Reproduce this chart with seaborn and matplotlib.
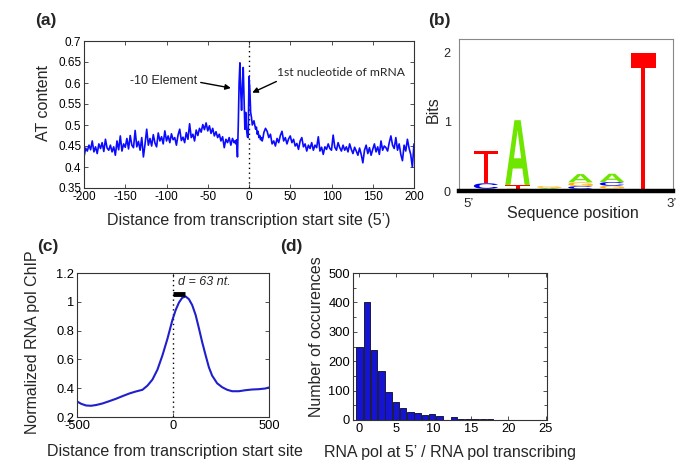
import numpy as np
import pandas as pd
import matplotlib
matplotlib.use("Agg")
import matplotlib.pyplot as plt
import seaborn as sns
from matplotlib.textpath import TextPath
from matplotlib.patches import PathPatch
from matplotlib.font_manager import FontProperties
from matplotlib.transforms import Affine2D
from matplotlib.ticker import MultipleLocator, FormatStrFormatter

sns.set_theme(style="ticks")
plt.rcParams['font.family'] = ['Liberation Sans', 'DejaVu Sans']
plt.rcParams['axes.unicode_minus'] = False

# ---------------- Panel (a): AT content ----------------
at_pos_left = list(range(-200, -17, 2))
at_left = [0.424, 0.445, 0.438, 0.452, 0.441, 0.462, 0.436, 0.448, 0.432, 0.455,
           0.444, 0.458, 0.437, 0.466, 0.445, 0.440, 0.452, 0.436, 0.448, 0.428,
           0.462, 0.441, 0.474, 0.438, 0.455, 0.447, 0.468, 0.443, 0.475, 0.452,
           0.446, 0.487, 0.448, 0.461, 0.440, 0.470, 0.424, 0.455, 0.490, 0.452,
           0.468, 0.450, 0.477, 0.457, 0.448, 0.481, 0.462, 0.472, 0.455, 0.486,
           0.462, 0.474, 0.458, 0.479, 0.465, 0.470, 0.452, 0.476, 0.490, 0.463,
           0.471, 0.458, 0.482, 0.466, 0.503, 0.470, 0.478, 0.462, 0.488, 0.475,
           0.492, 0.483, 0.501, 0.489, 0.505, 0.486, 0.498, 0.480, 0.492, 0.474,
           0.484, 0.470, 0.478, 0.462, 0.472, 0.446, 0.466, 0.458, 0.470, 0.452,
           0.468, 0.458]
at_pos_mid = list(range(-17, 18))
at_mid = [0.462, 0.455, 0.465, 0.424, 0.500, 0.600, 0.648, 0.580, 0.535, 0.590,
          0.637, 0.560, 0.490, 0.530, 0.490, 0.472, 0.470, 0.615, 0.585, 0.530,
          0.518, 0.500, 0.505, 0.510, 0.500, 0.490, 0.495, 0.478, 0.485, 0.470,
          0.475, 0.465, 0.470, 0.462, 0.470]
at_pos_right = list(range(18, 201, 2))
at_right = [0.482, 0.492, 0.485, 0.470, 0.478, 0.455, 0.462, 0.450, 0.468, 0.458,
            0.475, 0.485, 0.462, 0.470, 0.455, 0.467, 0.474, 0.458, 0.466, 0.450,
            0.456, 0.442, 0.462, 0.470, 0.448, 0.455, 0.438, 0.452, 0.444, 0.458,
            0.440, 0.452, 0.446, 0.472, 0.438, 0.447, 0.430, 0.448, 0.442, 0.455,
            0.444, 0.440, 0.476, 0.447, 0.440, 0.458, 0.446, 0.438, 0.452, 0.440,
            0.448, 0.436, 0.455, 0.442, 0.432, 0.447, 0.438, 0.428, 0.445, 0.430,
            0.410, 0.440, 0.452, 0.432, 0.446, 0.428, 0.442, 0.455, 0.436, 0.448,
            0.430, 0.462, 0.440, 0.450, 0.446, 0.438, 0.458, 0.474, 0.452, 0.444,
            0.470, 0.440, 0.455, 0.430, 0.415, 0.452, 0.438, 0.466, 0.445, 0.430,
            0.400, 0.455]

# ---------------- Panel (b): sequence logo ----------------
logo_positions = [1, 2, 3, 4, 5, 6]
bits_T = [0.47, 0.05, 0.010, 0.030, 0.035, 2.00]
bits_A = [0.012, 0.94, 0.020, 0.120, 0.120, 0.0]
bits_C = [0.08, 0.015, 0.015, 0.040, 0.055, 0.0]
bits_G = [0.02, 0.020, 0.025, 0.055, 0.040, 0.0]
logo_colors = {'T': '#ff0000', 'A': '#6ee600', 'C': '#0000ee', 'G': '#ffb000'}

# ---------------- Panel (c): RNA pol ChIP profile ----------------
chip_x = [-497, -479, -453, -427, -401, -367, -332, -298, -263, -228, -194, -159,
          -133, -107, -81, -55, -29, -3, 14, 31, 48, 66, 83, 100, 118, 135, 152,
          170, 187, 204, 230, 256, 282, 308, 343, 377, 412, 446, 481, 500]
chip_y = [0.306, 0.292, 0.280, 0.278, 0.283, 0.294, 0.310, 0.326, 0.345, 0.363,
          0.377, 0.389, 0.418, 0.460, 0.529, 0.628, 0.743, 0.874, 0.943, 0.995,
          1.028, 1.037, 1.018, 0.977, 0.908, 0.816, 0.720, 0.628, 0.545, 0.487,
          0.434, 0.407, 0.389, 0.379, 0.379, 0.386, 0.391, 0.393, 0.398, 0.405]
peak_offset = 63

# ---------------- Panel (d): histogram ----------------
hist_centers = [0.12, 1.09, 2.06, 3.03, 4.00, 4.97, 5.94, 6.91, 7.88, 8.85,
                9.82, 10.79, 11.76, 12.73, 13.70, 14.67, 15.64, 16.61, 17.58, 18.55]
hist_counts = [250, 400, 237, 165, 95, 60, 42, 26, 24, 16,
               19, 14, 0, 11, 5, 5, 4, 2, 2, 1]

W, H = 685, 471
fig = plt.figure(figsize=(W / 100, H / 100), dpi=100)
fig.patch.set_facecolor('white')


def add_ax(l, r, t, b):
    return fig.add_axes([l / W, 1 - b / H, (r - l) / W, (b - t) / H])


def matlab_style(ax, fs):
    for s in ax.spines.values():
        s.set_color('#333333')
        s.set_linewidth(0.8)
    ax.tick_params(direction='in', top=True, right=True, length=3, width=0.6,
                   color='#333333', labelsize=fs, labelcolor='black', pad=2)
    ax.set_facecolor('white')


lab_fs = 11.5

# ---- (a)
ax_a = add_ax(84, 414, 41, 188)
df_a = pd.DataFrame({'x': at_pos_left + at_pos_mid + at_pos_right,
                     'y': at_left + at_mid + at_right})
sns.lineplot(data=df_a, x='x', y='y', ax=ax_a, color='#0a0aff', lw=1.2)
ax_a.axvline(0, color='black', ls=(0, (1, 2.5)), lw=1.0, zorder=1)
ax_a.set_xlim(-200, 200)
ax_a.set_ylim(0.35, 0.7)
ax_a.xaxis.set_major_locator(MultipleLocator(50))
ax_a.yaxis.set_major_locator(MultipleLocator(0.05))
ax_a.yaxis.set_major_formatter(FormatStrFormatter('%g'))
matlab_style(ax_a, 8.5)
ax_a.set_xlabel("Distance from transcription start site (5\u2019)", fontsize=lab_fs)
ax_a.set_ylabel("AT content", fontsize=lab_fs)
ax_a.xaxis.label.set_va('center')
ax_a.yaxis.label.set_va('center')
ax_a.xaxis.set_label_coords(0.5, -0.218)
ax_a.yaxis.set_label_coords(-0.124, 0.578)
ax_a.annotate("-10 Element", xy=(-22, 0.588), xytext=(-144, 0.605),
              ha='left', va='center', fontsize=9,
              arrowprops=dict(arrowstyle='-|>', color='black', lw=1.0,
                              mutation_scale=8, relpos=(0.97, 0.45),
                              shrinkA=0, shrinkB=0))
ax_a.annotate("1st nucleotide of mRNA", xy=(4, 0.577), xytext=(34, 0.6245),
              ha='left', va='center', fontsize=8.7, family=['Lato', 'DejaVu Sans'],
              arrowprops=dict(arrowstyle='-|>', color='black', lw=1.0,
                              mutation_scale=8, relpos=(0.05, 0.0),
                              shrinkA=0, shrinkB=0))

# ---- (b)
ax_b = add_ax(459, 673, 39, 191)
ax_b.set_xlim(0.14, 6.94)
ax_b.set_ylim(0, 2.2)
fp_bold = FontProperties(family='Liberation Sans', weight='bold')
fp_reg = FontProperties(family='Liberation Sans', weight='normal')
letter_w = 0.78
for i, pos in enumerate(logo_positions):
    stack = sorted([('A', bits_A[i]), ('C', bits_C[i]), ('G', bits_G[i]), ('T', bits_T[i])],
                   key=lambda t: t[1])
    y0 = 0.0
    for letter, h in stack:
        if h <= 0:
            continue
        fp = fp_reg if letter == 'T' else fp_bold
        tp = TextPath((0, 0), letter, size=1, prop=fp)
        bb = tp.get_extents()
        tr = (Affine2D().translate(-bb.x0, -bb.y0)
              .scale(letter_w / bb.width, h / bb.height)
              .translate(pos - letter_w / 2, y0))
        patch = PathPatch(tr.transform_path(tp), facecolor=logo_colors[letter],
                          edgecolor='none', zorder=1)
        ax_b.add_patch(patch)
        y0 += h
for k in ['left', 'top', 'right']:
    ax_b.spines[k].set_color('#888888')
    ax_b.spines[k].set_linewidth(0.8)
ax_b.spines['bottom'].set_color('black')
ax_b.spines['bottom'].set_linewidth(3.2)
ax_b.set_yticks([0, 1, 2])
ax_b.set_xticks([0.43, 6.9])
ax_b.set_xticklabels(["5\u2019", "3\u2019"])
ax_b.tick_params(length=0, labelsize=9.5, pad=5)
ax_b.tick_params(axis='y', labelsize=9, pad=6)
ax_b.set_xlabel("Sequence position", fontsize=lab_fs)
ax_b.set_ylabel("Bits", fontsize=lab_fs)
ax_b.xaxis.label.set_va('center')
ax_b.yaxis.label.set_va('center')
ax_b.xaxis.set_label_coords(0.533, -0.145)
ax_b.yaxis.set_label_coords(-0.121, 0.533)

# ---- (c)
ax_c = add_ax(77, 269, 273, 417)
sns.lineplot(x=chip_x, y=chip_y, ax=ax_c, color='#1f1fcc', lw=1.5)
ax_c.axvline(0, color='black', ls=(0, (1, 2.5)), lw=1.0, zorder=1)
ax_c.plot([0, peak_offset], [1.053, 1.053], color='black', lw=3.5, solid_capstyle='butt')
ax_c.text(28, 1.14, f"d = {peak_offset} nt.", fontsize=9, style='italic',
          ha='left', va='center')
ax_c.set_xlim(-500, 500)
ax_c.set_ylim(0.2, 1.2)
ax_c.set_xticks([-500, 0, 500])
ax_c.yaxis.set_major_locator(MultipleLocator(0.2))
ax_c.yaxis.set_major_formatter(FormatStrFormatter('%g'))
matlab_style(ax_c, 9.3)
ax_c.set_xlabel("Distance from transcription start site", fontsize=lab_fs)
ax_c.set_ylabel("Normalized RNA pol ChIP", fontsize=lab_fs)
ax_c.xaxis.label.set_va('center')
ax_c.yaxis.label.set_va('center')
ax_c.xaxis.set_label_coords(0.51, -0.243)
ax_c.yaxis.set_label_coords(-0.234, 0.52)

# ---- (d)
ax_d = add_ax(353, 547, 273, 420)
sns.barplot(x=hist_centers, y=hist_counts, ax=ax_d, native_scale=True, width=0.88,
            color='#1414d2', edgecolor='#1a1a40', linewidth=0.7, saturation=1,
            errorbar=None)
ax_d.set_xlim(-0.77, 25.2)
ax_d.set_ylim(0, 500)
ax_d.xaxis.set_major_locator(MultipleLocator(5))
ax_d.yaxis.set_major_locator(MultipleLocator(100))
ax_d.yaxis.set_minor_locator(MultipleLocator(50))
matlab_style(ax_d, 9.3)
ax_d.tick_params(which='minor', direction='in', left=True, right=True, length=2.5,
                 width=0.6, color='#333333')
ax_d.set_xlabel("RNA pol at 5\u2019 / RNA pol transcribing", fontsize=lab_fs)
ax_d.set_ylabel("Number of occurences", fontsize=lab_fs)
ax_d.xaxis.label.set_va('center')
ax_d.yaxis.label.set_va('center')
ax_d.xaxis.set_label_coords(0.5, -0.218)
ax_d.yaxis.set_label_coords(-0.186, 0.565)

# panel letters
for txt, px, py in [("(a)", 35, 20), ("(b)", 428, 21), ("(c)", 37, 246), ("(d)", 280, 246)]:
    fig.text(px / W, 1 - py / H, txt, fontsize=12.5, fontweight='bold',
             ha='left', va='center')

fig.savefig("out.png", dpi=100, facecolor='white')
